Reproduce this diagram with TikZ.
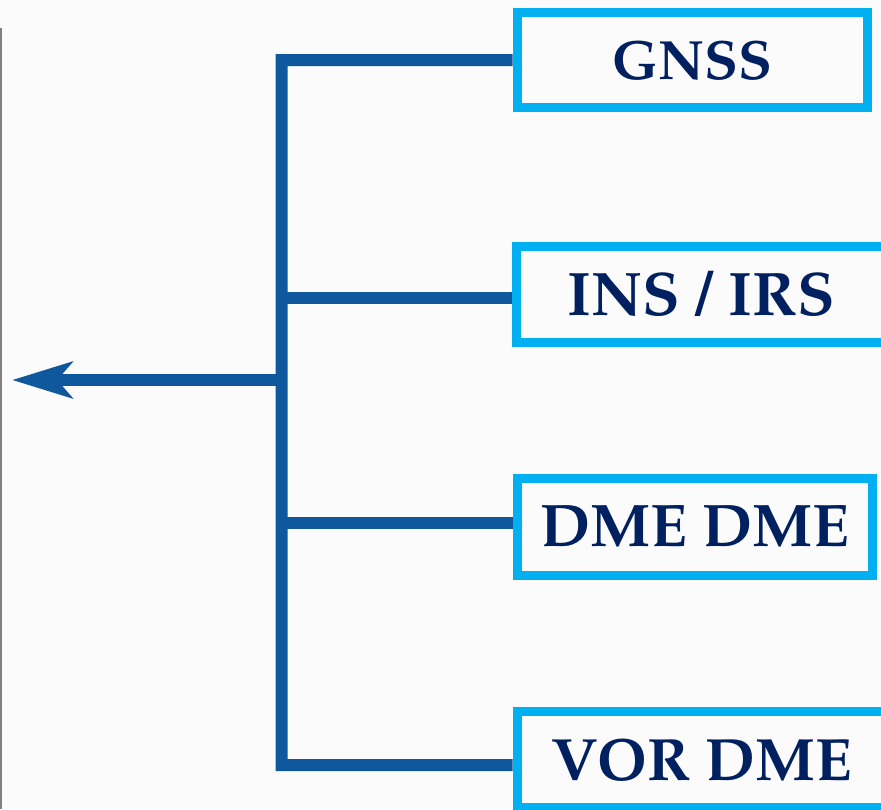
\documentclass[tikz,border=0pt]{standalone}
\usepackage[T1]{fontenc}
\usepackage{mathpazo}
\usetikzlibrary{arrows.meta}
\definecolor{brd}{RGB}{0, 176, 240}
\definecolor{lnk}{RGB}{16, 88, 158}
\definecolor{txt}{RGB}{0, 32, 96}
\definecolor{bgc}{RGB}{251, 251, 251}
\tikzset{
  sys/.style={draw=brd, line width=0.18cm, text=txt,
    font=\bfseries\fontsize{#1}{#1}\selectfont, inner sep=0pt},
  sys/.default=33,
  lnk/.style={color=lnk, line width=0.24cm}
}
\begin{document}
\begin{tikzpicture}[x=0.02cm, y=-0.02cm]
      \fill[bgc] (0,0) rectangle (881,809);
      \useasboundingbox (0,0) rectangle (881,809);
      \draw[color=gray, line width=0.05cm] (1,28)--(1,809);
      \node[sys=31.5, minimum width=7.02cm, minimum height=1.92cm](gnss) at (692.5,60) {GNSS};
      \node[sys=35, minimum width=7.38cm, minimum height=1.92cm](ins) at (701,294) {INS / IRS};
      \node[sys=34.2, minimum width=7.11cm, minimum height=1.94cm](dme) at (694.75,527) {DME DME};
      \node[sys=34, minimum width=7.38cm, minimum height=1.92cm](vor) at (701.5,759.5) {VOR DME};
      \coordinate(top) at (281.5,60);
      \coordinate(bot) at (281.5,765);
      \coordinate(mid) at (281.5,380);
      \coordinate(tip) at (12,380);
      \draw[lnk] (gnss.west) -- (top) -- (bot) -- ([yshift=-0.11cm]vor.west);
      \draw[lnk] (ins.west |- 0,298) -- (top |- 0,298);
      \draw[lnk] (dme.west |- 0,523) -- (top |- 0,523);
      \draw[lnk, -{Stealth[length=1.2cm, width=0.72cm, inset=0.3cm]}] (mid) -- (tip);
    \end{tikzpicture}
\end{document}
